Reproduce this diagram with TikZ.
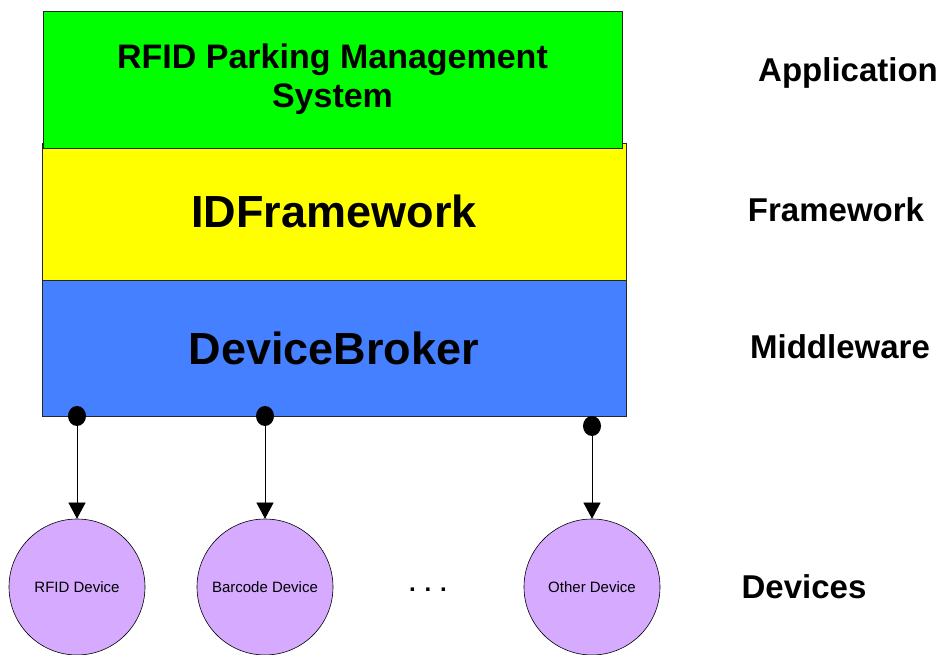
\documentclass[tikz,border=0pt]{standalone}
\usepackage{fontspec}
\setmainfont{Liberation Sans}
\usetikzlibrary{arrows.meta, positioning}

\definecolor{appgreen}{RGB}{0,255,0}
\definecolor{fwyellow}{RGB}{255,255,0}
\definecolor{mwblue}{RGB}{68,128,255}
\definecolor{devlilac}{RGB}{213,170,255}

\begin{document}
\begin{tikzpicture}[x=1pt, y=1pt,
    layer/.style={draw=black!85, line width=0.8pt, inner sep=0pt, minimum width=584pt, minimum height=137pt, align=center},
    device/.style={draw, circle, fill=devlilac, line width=0.6pt, minimum size=136pt, inner sep=0pt, font=\fontsize{15}{17}\selectfont},
    tier/.style={font=\bfseries\fontsize{33}{38}\selectfont},
    link/.style={-{Triangle[length=16pt, width=17pt]}, line width=0.6pt},
    dot/.style={fill=black}]
    \useasboundingbox (0,0) rectangle (946,654);
    % layer stack
    \node[layer, fill=fwyellow, font=\bfseries\fontsize{45}{52}\selectfont] (fw) at (334,442.5) {IDFramework};
    \node[layer, fill=appgreen, minimum width=579pt, font=\bfseries\fontsize{34}{39}\selectfont] (app) at (332.5,574.5) {RFID Parking Management\\System};
    \node[layer, fill=mwblue, minimum height=136pt, font=\bfseries\fontsize{45}{52}\selectfont] (mw) at (334,306) {DeviceBroker};
    % devices
    \node[device] (rfid) at (77,67) {RFID Device};
    \node[device] (barcode) at (265,67) {Barcode Device};
    \node[device] (other) at (592,67) {Other Device};
    \node[font=\bfseries\fontsize{24}{28}\selectfont] (more) at (428,64) {. . .};
    % tier names
    \node[tier] (lapp) at (848,581) {Application};
    \node[tier] (lfw) at (836,444) {Framework};
    \node[tier] (lmw) at (840,307) {Middleware};
    \node[tier] (ldev) at (804,67) {Devices};
    % ports on the broker
    \coordinate (p1) at (77,238);
    \coordinate (p2) at (265,238);
    \coordinate (p3) at (592,228);
    \foreach \p in {p1,p2,p3}
        \fill[dot] (\p) ellipse (9pt and 10pt);
    \draw[link] (p1) -- (rfid.north);
    \draw[link] (p2) -- (barcode.north);
    \draw[link] (p3) -- (other.north);
\end{tikzpicture}
\end{document}
